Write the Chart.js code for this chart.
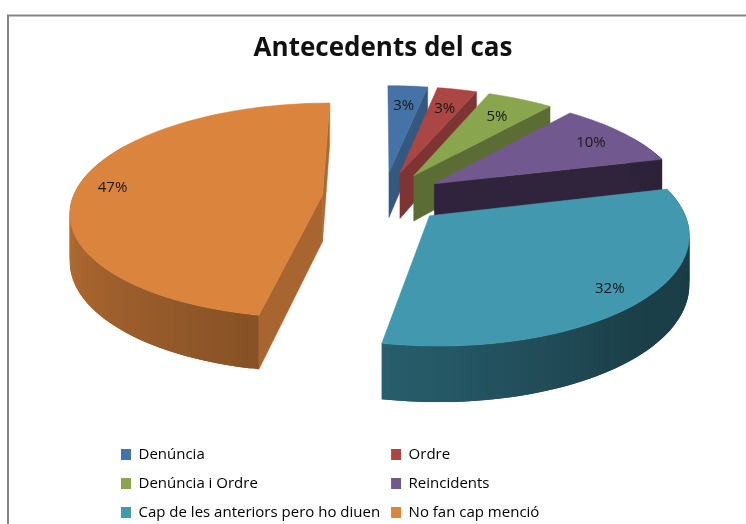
<!DOCTYPE html>
<html><head><meta charset="utf-8">
<style>html,body{margin:0;padding:0;background:#fff}#w{width:746px;height:524px;position:relative}</style>
<script src="https://cdn.jsdelivr.net/npm/chart.js@4/dist/chart.umd.js"></script>
</head><body><div id="w"><canvas id="c" width="746" height="524"></canvas></div>
<script>
const categories = ['Denúncia','Ordre','Denúncia i Ordre','Reincidents','Cap de les anteriors pero ho diuen','No fan cap menció'];
const percentValues = [3,3,5,10,32,47];
const sliceColors = ['#4572a7','#aa4643','#89a54e','#71588f','#4198af','#db843d'];
const chartTitle = 'Antecedents del cas';

// camera of the tilted pie (one unit = pie radius)
const CAM = {vx:380, horizon:-544, cy:222, A:258, B:113, k:0.148, planeX:0.014, planeY:0.224, explode:0.246, depth:0.063};
const drawOrder = [0,1,2,3,5,4];
const outerShade = [[60,.40],[100,.40],[135,.42],[190,.62],[270,.85],[300,.85]];
const edgeShade  = [[80,.82],[100,.77],[112,.74],[130,.66],[166,.41],[200,.4]];
const FRAME={x:8,y:15.5};
const LEG={x:121,y:447};
function lerpTable(t,v){ if(v<=t[0][0])return t[0][1]; for(let i=1;i<t.length;i++){ if(v<=t[i][0]){const a=t[i-1],b=t[i];return a[1]+(b[1]-a[1])*(v-a[0])/(b[0]-a[0]);}} return t[t.length-1][1]; }
function project(X,Y){ const s=1/(1+CAM.k*Y); return {x:CAM.vx+CAM.A*X*s, y:CAM.cy-CAM.B*Y*s}; }
function wall(p){ return {x:p.x, y:p.y+CAM.depth*(p.y-CAM.horizon)}; }
function dark(hex,f){ const n=parseInt(hex.slice(1),16); return `rgb(${Math.round((n>>16&255)*f)},${Math.round((n>>8&255)*f)},${Math.round((n&255)*f)})`; }
function fillPoly(ctx,pts,col,edge){ ctx.beginPath(); pts.forEach((p,i)=>i?ctx.lineTo(p.x,p.y):ctx.moveTo(p.x,p.y)); ctx.closePath(); ctx.fillStyle=col; ctx.fill(); if(edge){ctx.strokeStyle=col; ctx.lineWidth=.5; ctx.stroke();} }

const pie3d = {
  id:'pie3d',
  beforeDraw(chart){ const c=chart.ctx; c.save(); c.fillStyle='#fff'; c.fillRect(0,0,746,524); c.strokeStyle='#868686'; c.lineWidth=2; c.beginPath(); c.moveTo(746,FRAME.y); c.lineTo(FRAME.x,FRAME.y); c.lineTo(FRAME.x,524); c.stroke(); c.restore(); },
  beforeDatasetDraw(chart,args){
    const ctx=chart.ctx, arcs=chart.getDatasetMeta(args.index).data;
    const labelPos=[];
    ctx.save();
    drawOrder.forEach(i=>{
      const arc=arcs[i], a0=arc.startAngle, a1=arc.endAngle, mid=(a0+a1)/2;
      const ox=CAM.planeX+CAM.explode*Math.cos(mid), oy=CAM.planeY-CAM.explode*Math.sin(mid);
      const pt=(a,r)=>project(ox+r*Math.cos(a), oy-r*Math.sin(a));
      const n=Math.max(4,Math.ceil((a1-a0)/0.03));
      const rim=[]; for(let j=0;j<=n;j++) rim.push(a0+(a1-a0)*j/n);
      const apex=project(ox,oy), deg=a=>((a+Math.PI/2)*180/Math.PI+360)%360;
      // radial faces first
      [[a0,deg(a0)-90],[a1,deg(a1)+90]].forEach(([a,nrm])=>{
        const m=((nrm%360)+360)%360, q=pt(a,1);
        if(m>60&&m<200) fillPoly(ctx,[apex,q,wall(q),wall(apex)],dark(sliceColors[i],lerpTable(edgeShade,m)),true);
      });
      // outer wall: each strip overlaps the next one so no seams show
      for(let j=n-1;j>=0;j--){
        const m=deg((rim[j]+rim[j+1])/2);
        if(m<60||m>300) continue;
        const p=pt(rim[j],1), q=pt(rim[Math.min(n,j+2)],1);
        fillPoly(ctx,[p,q,wall(q),wall(p)],dark(sliceColors[i],lerpTable(outerShade,m)),false);
      }
      // top face
      fillPoly(ctx,[apex].concat(rim.map(a=>pt(a,1))),sliceColors[i],true);
      const lr=percentValues[i]>=32?0.86:percentValues[i]>=10?0.82:0.76;
      labelPos[i]=pt(mid,lr);
    });
    ctx.fillStyle='#1a1a1a'; ctx.font='15px "Open Sans"'; ctx.textAlign='center'; ctx.textBaseline='middle';
    labelPos.forEach((p,i)=>ctx.fillText(percentValues[i]+'%',p.x,p.y+1));
    ctx.restore();
    return false;
  },
  afterLayout(chart){
    const l=chart.legend; if(!l) return;
    l.maxHeight=110; l.fit();
    l.columnSizes[0].width-=3;
    const pad=l.options.labels.padding;
    l.left=LEG.x-pad; l.right=l.left+l.width; l.top=LEG.y-pad; l.bottom=l.top+l.height;
    l.adjustHitBoxes();
    const t=chart.titleBlock; if(t){ t.left+=10; t.right+=10; }
  }
};

new Chart(document.getElementById('c'),{
  type:'pie',
  data:{labels:categories,datasets:[{data:percentValues,backgroundColor:sliceColors,borderWidth:0}]},
  options:{
    responsive:false,animation:false,rotation:0,
    layout:{padding:0},
    plugins:{
      tooltip:{enabled:false},
      title:{display:true,text:chartTitle,color:'#111',align:'center',font:{family:'"Open Sans"',size:26,weight:'bold'},padding:{top:33,bottom:10}},
      legend:{position:'chartArea',align:'start',
        labels:{boxWidth:10,boxHeight:11,padding:14,color:'#222',font:{family:'"Open Sans"',size:15},
          generateLabels(chart){
            return [0,2,4,1,3,5].map(i=>({text:categories[i],fillStyle:sliceColors[i],strokeStyle:sliceColors[i],lineWidth:0,index:i,hidden:false}));
          }}}
    }
  },
  plugins:[pie3d]
});
</script></body></html>
